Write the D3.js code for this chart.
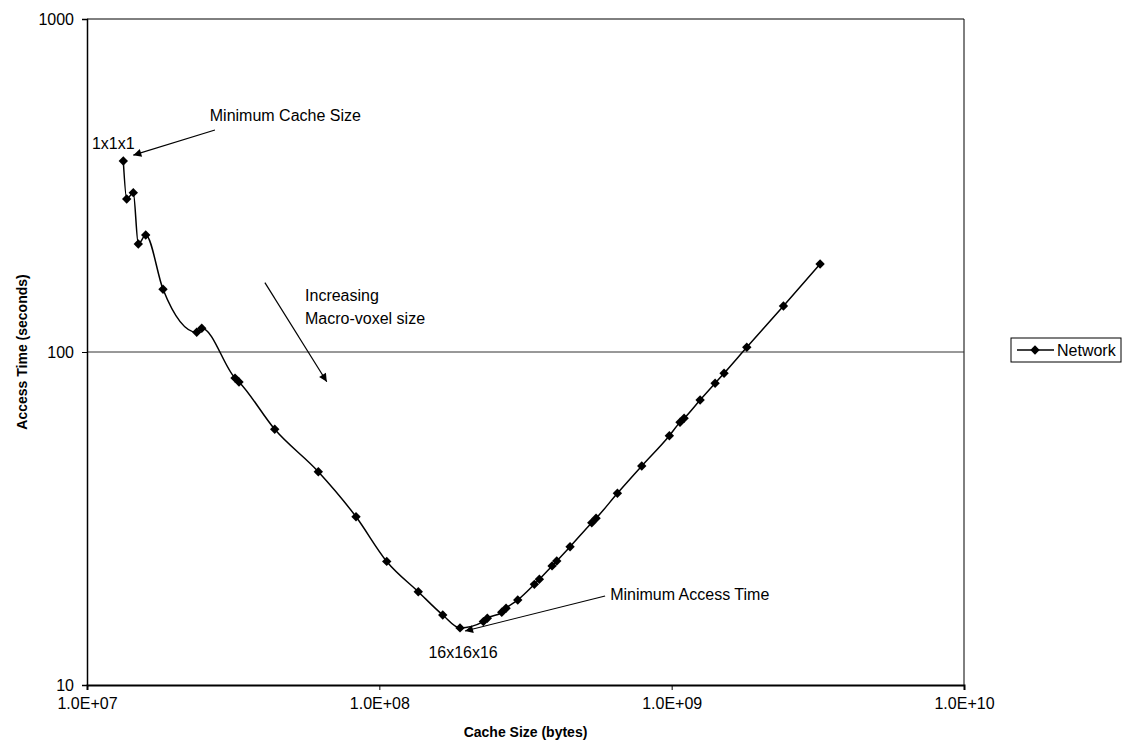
<!DOCTYPE html>
<html>
<head>
<meta charset="utf-8">
<script src="https://cdn.jsdelivr.net/npm/d3@7"></script>
<style>
  body { margin: 0; background: #fff; }
  text { font-family: "Liberation Sans", Arial, sans-serif; fill: #000; }
</style>
</head>
<body>
<div id="chart"></div>
<script>
// Cache size (bytes) and access time (seconds) for each macro-voxel configuration
const cacheSize = [
  1.331e7, 1.367e7, 1.440e7, 1.498e7, 1.588e7, 1.820e7, 2.373e7, 2.469e7, 3.209e7, 3.311e7,
  4.387e7, 6.184e7, 8.323e7, 1.060e8, 1.359e8, 1.648e8, 1.888e8, 2.269e8, 2.341e8, 2.623e8,
  2.713e8, 2.975e8, 3.391e8, 3.527e8, 3.898e8, 4.045e8, 4.492e8, 5.330e8, 5.513e8, 6.522e8,
  7.900e8, 9.820e8, 1.068e9, 1.103e9, 1.251e9, 1.408e9, 1.511e9, 1.807e9, 2.412e9, 3.219e9
];
const accessTime = [
  374.6, 288.0, 300.9, 211.0, 224.5, 154.3, 114.6, 117.8, 83.5, 81.3,
  58.6, 43.7, 32.0, 23.5, 19.06, 16.23, 14.84, 15.50, 15.86, 16.53,
  17.00, 18.00, 20.06, 20.77, 22.78, 23.57, 26.02, 30.72, 31.67, 37.64,
  45.47, 56.06, 61.50, 63.22, 71.75, 80.54, 86.30, 103.3, 137.5, 183.8
];
const xTicks = [1e7, 1e8, 1e9, 1e10];
const yTicks = [10, 100, 1000];
const seriesName = "Network";

// Text annotations placed in data space
const notes = [
  { text: "Minimum Cache Size", x: 2.63e7, y: 515, anchor: "start" },
  { text: "1x1x1", x: 1.04e7, y: 424, anchor: "start" },
  { text: "Increasing", x: 5.57e7, y: 148, anchor: "start" },
  { text: "Macro-voxel size", x: 5.57e7, y: 126.5, anchor: "start" },
  { text: "Minimum Access Time", x: 6.16e8, y: 18.76, anchor: "start" },
  { text: "16x16x16", x: 1.934e8, y: 12.57, anchor: "middle" }
];
// Arrows: from (x1,y1) to head at (x2,y2), data space
const arrows = [
  { x1: 2.74e7, y1: 464, x2: 1.44e7, y2: 390 },
  { x1: 4.06e7, y1: 161.5, x2: 6.61e7, y2: 81.4 },
  { x1: 5.92e8, y1: 18.5, x2: 1.964e8, y2: 14.53 }
];

const W = 1125, H = 744;
const plot = { left: 87, right: 964, top: 19, bottom: 685 };

const svg = d3.select("#chart").append("svg")
  .attr("width", W).attr("height", H);

const x = d3.scaleLog().domain([1e7, 1e10]).range([plot.left, plot.right]);
const y = d3.scaleLog().domain([10, 1000]).range([plot.bottom, plot.top]);

// arrowhead
svg.append("defs").append("marker")
  .attr("id", "head")
  .attr("viewBox", "0 0 10 10")
  .attr("refX", 10).attr("refY", 5)
  .attr("markerWidth", 10).attr("markerHeight", 8)
  .attr("markerUnits", "userSpaceOnUse")
  .attr("orient", "auto")
  .append("path").attr("d", "M0,0L10,5L0,10Z").attr("fill", "#000");

// plot frame (top + right)
svg.append("path")
  .attr("d", `M${plot.left},${plot.top}H${plot.right}V${plot.bottom}`)
  .attr("fill", "none").attr("stroke", "#000").attr("stroke-width", 1);

// horizontal gridline at 100
svg.append("g").selectAll("line")
  .data(yTicks.filter(d => d !== 10 && d !== 1000))
  .enter().append("line")
  .attr("x1", plot.left).attr("x2", plot.right)
  .attr("y1", d => y(d)).attr("y2", d => y(d))
  .attr("stroke", "#333").attr("stroke-width", 1);

// axes
const yAxis = svg.append("g")
  .attr("transform", `translate(${plot.left},0)`)
  .call(d3.axisLeft(y).tickValues(yTicks).tickFormat(d3.format("d")).tickSize(5).tickPadding(8));
const xAxis = svg.append("g")
  .attr("transform", `translate(0,${plot.bottom})`)
  .call(d3.axisBottom(x).tickValues(xTicks).tickFormat(d => d.toExponential(1).toUpperCase().replace(/E\+(\d)$/, "E+0$1")).tickSize(5).tickPadding(8));

[xAxis, yAxis].forEach(a => {
  a.selectAll("text").style("font-size", "16px").style("font-family", "'Liberation Sans', Arial, sans-serif");
  a.selectAll("line").attr("stroke", "#000");
});
yAxis.select(".domain").attr("stroke", "#000").attr("stroke-width", 1.5);
xAxis.select(".domain").attr("stroke", "#000").attr("stroke-width", 2);

// axis titles
svg.append("text")
  .attr("x", (plot.left + plot.right) / 2)
  .attr("y", 737)
  .attr("text-anchor", "middle")
  .style("font-size", "14px").style("font-weight", "bold")
  .text("Cache Size (bytes)");
svg.append("text")
  .attr("transform", `translate(27,${(plot.top + plot.bottom) / 2}) rotate(-90)`)
  .attr("text-anchor", "middle")
  .style("font-size", "14px").style("font-weight", "bold")
  .text("Access Time (seconds)");

// series
const points = cacheSize.map((c, i) => ({ c: c, t: accessTime[i] }));
const line = d3.line()
  .x(d => x(d.c)).y(d => y(d.t))
  .curve(d3.curveMonotoneX);
svg.append("path")
  .datum(points)
  .attr("d", line)
  .attr("fill", "none").attr("stroke", "#000").attr("stroke-width", 1.5);

const diamond = d3.symbol().type(d3.symbolSquare).size(44);
svg.append("g").selectAll("path")
  .data(points)
  .enter().append("path")
  .attr("d", diamond)
  .attr("transform", d => `translate(${x(d.c)},${y(d.t)}) rotate(45)`)
  .attr("fill", "#000");

// annotations
svg.append("g").selectAll("line")
  .data(arrows)
  .enter().append("line")
  .attr("x1", d => x(d.x1)).attr("y1", d => y(d.y1))
  .attr("x2", d => x(d.x2)).attr("y2", d => y(d.y2))
  .attr("stroke", "#000").attr("stroke-width", 1.2)
  .attr("marker-end", "url(#head)");

svg.append("g").selectAll("text")
  .data(notes)
  .enter().append("text")
  .attr("x", d => x(d.x)).attr("y", d => y(d.y))
  .attr("dy", "0.35em")
  .attr("text-anchor", d => d.anchor)
  .style("font-size", "16px")
  .text(d => d.text);

// legend
const legend = svg.append("g").attr("transform", "translate(1011,338)");
legend.append("rect")
  .attr("width", 110).attr("height", 24)
  .attr("fill", "#fff").attr("stroke", "#000").attr("stroke-width", 1);
legend.append("line")
  .attr("x1", 6).attr("x2", 43).attr("y1", 12).attr("y2", 12)
  .attr("stroke", "#000").attr("stroke-width", 1.5);
legend.append("path")
  .attr("d", diamond)
  .attr("transform", "translate(24,12) rotate(45)")
  .attr("fill", "#000");
legend.append("text")
  .attr("x", 46).attr("y", 12).attr("dy", "0.35em")
  .style("font-size", "16px")
  .text(seriesName);
</script>
</body>
</html>
